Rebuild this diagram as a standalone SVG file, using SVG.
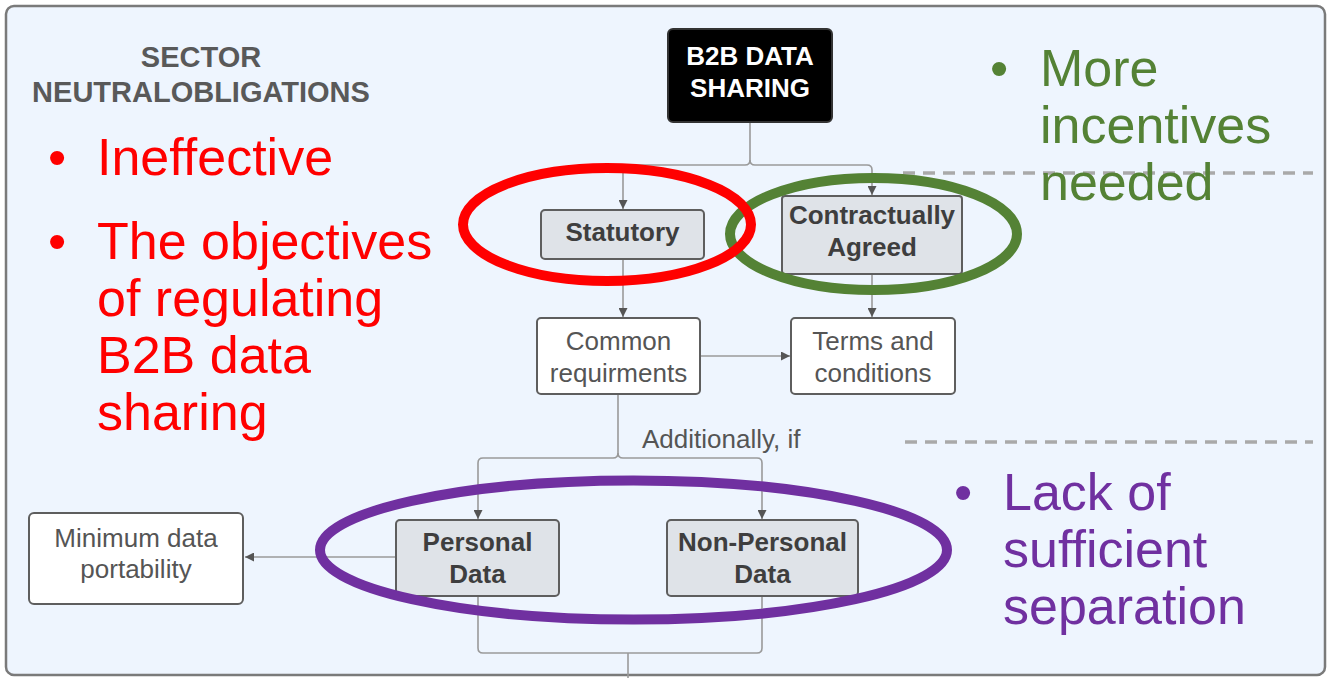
<svg xmlns="http://www.w3.org/2000/svg" width="1332" height="678" viewBox="0 0 1332 678">
  <defs>
    <marker id="arr" viewBox="0 0 10 10" refX="10" refY="5" markerWidth="11" markerHeight="9" markerUnits="userSpaceOnUse" orient="auto">
      <path d="M0,0 L10,5 L0,10 z" fill="#555"/>
    </marker>
  </defs>
  <style>
    .panel { fill: #eef5fe; stroke: #7a7a7a; stroke-width: 2.5; }
    .gbox { fill: #dfe3e8; stroke: #5e5e5e; stroke-width: 2; }
    .wbox { fill: #ffffff; stroke: #5e5e5e; stroke-width: 2; }
    .bbox { fill: #000000; stroke: #333; stroke-width: 2; }
    .conn { fill: none; stroke: #9a9a9a; stroke-width: 1.6; }
    .dash { fill: none; stroke: #a9a9a9; stroke-width: 3.5; stroke-dasharray: 12 8; }
    .bt { font-family: "Liberation Sans", Arial, sans-serif; font-weight: bold; font-size: 26px; fill: #3e3e3e; text-anchor: middle; }
    .nt { font-family: "Liberation Sans", Arial, sans-serif; font-size: 26px; fill: #555; text-anchor: middle; }
    .wt { font-family: "Liberation Sans", Arial, sans-serif; font-weight: bold; font-size: 26px; fill: #ffffff; text-anchor: middle; }
    .title { font-family: "Liberation Sans", Arial, sans-serif; font-weight: bold; font-size: 29px; fill: #595959; text-anchor: middle; }
    .lbl { font-family: "Liberation Sans", Arial, sans-serif; font-size: 26px; fill: #555; }
    .big { font-family: "Liberation Sans", Arial, sans-serif; font-size: 52px; }
    .red { fill: #ff0000; }
    .green { fill: #548235; }
    .purple { fill: #7030a0; }
    .ell { fill: none; stroke-width: 10; }
  </style>

  <rect class="panel" x="6" y="6" width="1319" height="669" rx="8"/>

  <g id="dashes">
    <line class="dash" x1="903" y1="173" x2="1313" y2="173"/>
    <line class="dash" x1="905" y1="442" x2="1313" y2="442"/>
  </g>

  <g id="title">
    <text class="title" x="201" y="67">SECTOR</text>
    <text class="title" x="201" y="102">NEUTRALOBLIGATIONS</text>
  </g>

  <g id="connectors">
    <path class="conn" d="M750,122 V160 Q750,165 745,165 H628 Q623,165 623,170 V209" marker-end="url(#arr)"/>
    <path class="conn" d="M750,160 Q750,165 755,165 H867 Q872,165 872,170 V195" marker-end="url(#arr)"/>
    <path class="conn" d="M623,259 V317" marker-end="url(#arr)"/>
    <path class="conn" d="M872,274 V317" marker-end="url(#arr)"/>
    <path class="conn" d="M700,356 H790" marker-end="url(#arr)"/>
    <path class="conn" d="M618,394 V453 Q618,458 613,458 H483 Q478,458 478,463 V519" marker-end="url(#arr)"/>
    <path class="conn" d="M618,453 Q618,458 623,458 H757 Q762,458 762,463 V519" marker-end="url(#arr)"/>
    <path class="conn" d="M396,557 H245" marker-end="url(#arr)"/>
    <path class="conn" d="M478,596 V648 Q478,653 483,653 H757 Q762,653 762,648 V596"/>
    <path class="conn" d="M628,653 V678"/>
    <text class="lbl" x="642" y="448">Additionally, if</text>
  </g>

  <g id="b2b">
    <rect class="bbox" x="668" y="29" width="164" height="93" rx="5"/>
    <text class="wt" x="750" y="65">B2B DATA</text>
    <text class="wt" x="750" y="97">SHARING</text>
  </g>

  <g id="statutory">
    <rect class="gbox" x="541" y="210" width="163" height="49" rx="4"/>
    <text class="bt" x="622.5" y="241">Statutory</text>
  </g>

  <g id="contractually">
    <rect class="gbox" x="782" y="196" width="180" height="78" rx="3"/>
    <text class="bt" x="872" y="224">Contractually</text>
    <text class="bt" x="872" y="256">Agreed</text>
  </g>

  <g id="common">
    <rect class="wbox" x="537" y="318" width="163" height="76" rx="4"/>
    <text class="nt" x="618.5" y="350">Common</text>
    <text class="nt" x="618.5" y="382">requirments</text>
  </g>

  <g id="terms">
    <rect class="wbox" x="791" y="318" width="164" height="76" rx="4"/>
    <text class="nt" x="873" y="350">Terms and</text>
    <text class="nt" x="873" y="382">conditions</text>
  </g>

  <g id="personal">
    <rect class="gbox" x="396" y="520" width="163" height="76" rx="4"/>
    <text class="bt" x="477.5" y="551">Personal</text>
    <text class="bt" x="477.5" y="583">Data</text>
  </g>

  <g id="nonpersonal">
    <rect class="gbox" x="667" y="520" width="191" height="76" rx="4"/>
    <text class="bt" x="762.5" y="551">Non-Personal</text>
    <text class="bt" x="762.5" y="583">Data</text>
  </g>

  <g id="minimum">
    <rect class="wbox" x="29" y="513" width="214" height="91" rx="5"/>
    <text class="nt" x="136" y="547">Minimum data</text>
    <text class="nt" x="136" y="578">portability</text>
  </g>

  <g id="highlights">
    <ellipse class="ell" cx="873.5" cy="234" rx="143.5" ry="56" stroke="#548235"/>
    <ellipse class="ell" cx="607" cy="224.5" rx="144" ry="56.5" stroke="#ff0000"/>
    <ellipse class="ell" cx="633.5" cy="550" rx="313.5" ry="69.5" stroke="#7030a0"/>
  </g>

  <g id="red-notes">
    <text class="big red" x="48" y="175">•</text>
    <text class="big red" x="97" y="175">Ineffective</text>
    <text class="big red" x="48" y="259">•</text>
    <text class="big red" x="97" y="259">The objectives</text>
    <text class="big red" x="97" y="316">of regulating</text>
    <text class="big red" x="97" y="373">B2B data</text>
    <text class="big red" x="97" y="430">sharing</text>
  </g>

  <g id="green-notes">
    <text class="big green" x="990" y="86">•</text>
    <text class="big green" x="1040" y="86">More</text>
    <text class="big green" x="1040" y="143">incentives</text>
    <text class="big green" x="1040" y="200">needed</text>
  </g>

  <g id="purple-notes">
    <text class="big purple" x="954" y="510">•</text>
    <text class="big purple" x="1003" y="510">Lack of</text>
    <text class="big purple" x="1003" y="567">sufficient</text>
    <text class="big purple" x="1003" y="624">separation</text>
  </g>
</svg>
